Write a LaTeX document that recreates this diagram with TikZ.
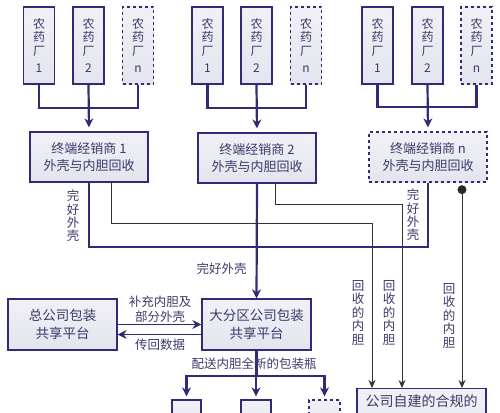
\documentclass[tikz,border=0pt]{standalone}
\usepackage{fontspec}
\newfontfamily\cjk{Noto Sans CJK SC}
\usetikzlibrary{arrows.meta}
\definecolor{Navy}{HTML}{2F2B78}
\definecolor{Ink}{HTML}{3A3A6A}
\definecolor{Wire}{HTML}{333333}
\definecolor{Lav}{HTML}{E4E4EE}
\tikzset{
    box/.style={rectangle, draw=Navy, line width=1.3pt, top color=white!45!Lav, bottom color=Lav, text=Ink, align=center, inner sep=0pt},
    plant/.style={box, minimum width=31pt, minimum height=77pt, font=\cjk\fontsize{12}{13.5}\selectfont},
    dealer/.style={box, minimum width=118pt, minimum height=50pt, font=\cjk\fontsize{13}{17}\selectfont},
    hub/.style={box, minimum width=109pt, minimum height=51pt, font=\cjk\fontsize{13.5}{18}\selectfont},
    lbl/.style={text=Ink, align=center, inner sep=0pt, font=\cjk\fontsize{12.5}{13.3}\selectfont},
    bus/.style={line width=2.2pt, color=Navy},
    busarrow/.style={bus, -{Stealth[length=9pt, width=9pt]}},
    wire/.style={line width=0.9pt, color=Wire},
    wirearrow/.style={wire, -{Stealth[length=8pt, width=7pt]}},
}

\begin{document}
\begin{tikzpicture}[x=1pt, y=-1pt]
    \useasboundingbox (0,0) rectangle (500,412);
    \clip (0,0) rectangle (500,412);

    % Fabbriche (tre gruppi)
    \node[plant]    (f11) at (39,45.5)    {农\\药\\厂\\[4pt]1};
    \node[plant]    (f12) at (88.5,45.5)  {农\\药\\厂\\[4pt]2};
    \node[plant, dashed] (f1n) at (138,45.5) {农\\药\\厂\\[4pt]n};
    \node[plant]    (f21) at (207.5,45.5) {农\\药\\厂\\[4pt]1};
    \node[plant]    (f22) at (256.5,45.5) {农\\药\\厂\\[4pt]2};
    \node[plant, dashed] (f2n) at (306,45.5) {农\\药\\厂\\[4pt]n};
    \node[plant]    (f31) at (377.5,45.5) {农\\药\\厂\\[4pt]1};
    \node[plant]    (f32) at (427.5,45.5) {农\\药\\厂\\[4pt]2};
    \node[plant, dashed] (f3n) at (476.5,45.5) {农\\药\\厂\\[4pt]n};

    % Distributori
    \node[dealer] (d1) at (89,157)  {终端经销商 1\\外壳与内胆回收};
    \node[dealer] (d2) at (257,158) {终端经销商 2\\外壳与内胆回收};
    \node[dealer, dashed] (dn) at (428,157) {终端经销商 n\\外壳与内胆回收};

    % Piattaforme
    \node[hub] (hq)  at (62.5,324.5)  {总公司包装\\共享平台};
    \node[hub] (reg) at (256.5,324.5) {大分区公司包装\\共享平台};

    % Riquadri in basso (tagliati)
    \node[box, minimum width=29pt, minimum height=40pt] (b1) at (186.5,420) {};
    \node[box, minimum width=30pt, minimum height=40pt] (b2) at (256,420) {};
    \node[box, dashed, minimum width=31pt, minimum height=40pt] (bn) at (324.5,420) {};
    \node[box, minimum width=129pt, minimum height=60pt, anchor=north] (co) at (421.5,388) {};
    \node[lbl, font=\cjk\fontsize{14}{18}\selectfont] (cotxt) at (421.5,401) {公司自建的合规的};

    % Collegamenti fabbriche -> distributori
    \draw[bus] (f11.south) -- ++(0,23) -| (f1n.south);
    \draw[busarrow, shorten >=4pt] (f12.south) -- (d1.north);
    \draw[bus] (f21.south) -- ++(0,23) -| (f2n.south);
    \draw[busarrow, shorten >=4pt] (f22.south) -- (d2.north);
    \draw[bus] (f31.south) -- ++(0,22) -| (f3n.south);
    \draw[busarrow, shorten >=4pt] (f32.south) -- (dn.north);

    % Gusci integri
    \draw[bus] (d1.south) -- ++(0,64) -| (dn.south);
    \draw[busarrow] (d2.south) -- (reg.north);

    % Sacche interne recuperate
    \draw[wirearrow] ([xshift=22pt]d1.south) -- ++(0,41) -| ([xshift=-49.5pt]co.north);
    \draw[wirearrow] ([xshift=18pt]d2.south) -- ++(0,21) -| ([xshift=-19.5pt]co.north);
    \coordinate (dot) at ([xshift=34pt, yshift=-7pt]dn.south);
    \fill[black!85] (dot) circle (4.5pt);
    \draw[wirearrow] (dot) -- (dot |- co.north);

    % Etichette
    \node[lbl] (l1) at (73,216)  {完\\好\\外\\壳};
    \node[lbl] (l2) at (413,215) {完\\好\\外\\壳};
    \node[lbl] (l3) at (221.5,269) {完好外壳};
    \node[lbl, font=\cjk\fontsize{12.5}{13.5}\selectfont] (l4) at (358,313) {回\\收\\的\\内\\胆};
    \node[lbl, font=\cjk\fontsize{12.5}{13.5}\selectfont] (l5) at (389,313) {回\\收\\的\\内\\胆};
    \node[lbl, font=\cjk\fontsize{12.5}{13.5}\selectfont] (l6) at (449,316) {回\\收\\的\\内\\胆};

    % Scambi tra piattaforme
    \draw[busarrow, line width=1.8pt] (hq.east) -- (reg.west);
    \draw[busarrow, line width=1.8pt] ([yshift=-10pt]reg.west) -- ([yshift=-10pt]hq.east);
    \node[lbl, font=\cjk\fontsize{12.5}{15}\selectfont] (l7) at (160,309) {补充内胆及\\部分外壳};
    \node[lbl] (l8) at (160,345) {传回数据};

    % Distribuzione bottiglie nuove
    \draw[bus] (reg.south) -- ++(0,25) coordinate (split);
    \draw[busarrow, shorten >=3pt] (split) -| (b1.north);
    \draw[busarrow, shorten >=3pt] (split) -- (split -| b2.north) -- (b2.north);
    \draw[busarrow, shorten >=3pt] (split) -| (bn.north);
    \node[lbl] (l9) at (254,364) {配送内胆全新的包装瓶};
\end{tikzpicture}
\end{document}
